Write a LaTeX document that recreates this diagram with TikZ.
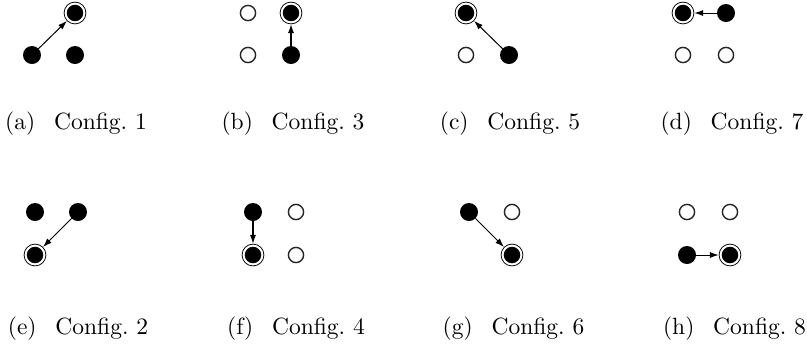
\documentclass[tikz,border=0pt]{standalone}
\usetikzlibrary{arrows.meta}
\begin{document}
\begin{tikzpicture}[x=0.4255pt,y=-0.4255pt,
  target/.style={circle,inner sep=0pt,minimum size=8.0pt,fill=black,draw=black,
    line width=0.38pt,double=white,double distance=0.85pt,outer sep=0.81pt},
  agent/.style={circle,inner sep=0pt,minimum size=7.66pt,fill=black,outer sep=0pt},
  free/.style={circle,inner sep=0pt,minimum size=6.47pt,draw=black!85,line width=0.6pt,fill=white},
  move/.style={line width=0.43pt,-{Latex[length=3.8pt,width=2.6pt]}},
  captext/.style={anchor=base,inner sep=0pt,font=\normalsize}]
\useasboundingbox (0,0) rectangle (807,346);
% (a)
\node[target] (aT) at (75,13) {};
\node[agent] (aBL) at (32,55) {};
\node[agent] (aBR) at (75,55) {};
\draw[move] (aBL) -- (aT);
\node[captext] (la) at (76,129) {(a)\hspace{8pt}Config.~1};
% (b)
\node[free] (bTL) at (248,13) {};
\node[target] (bT) at (291,13) {};
\node[free] (bBL) at (248,55) {};
\node[agent] (bBR) at (291,55) {};
\draw[move] (bBR) -- (bT);
\node[captext] (lb) at (293,129) {(b)\hspace{8pt}Config.~3};
% (c)
\node[target] (cT) at (466,13) {};
\node[free] (cBL) at (466,55) {};
\node[agent] (cBR) at (509,55) {};
\draw[move] (cBR) -- (cT);
\node[captext] (lc) at (510,129) {(c)\hspace{8pt}Config.~5};
% (d)
\node[target] (dT) at (683,13) {};
\node[agent] (dTR) at (726,13) {};
\node[free] (dBL) at (683,55) {};
\node[free] (dBR) at (726,55) {};
\draw[move] (dTR) -- (dT);
\node[captext] (ld) at (732,129) {(d)\hspace{8pt}Config.~7};
% (e)
\node[agent] (eTL) at (35,212) {};
\node[agent] (eTR) at (78,212) {};
\node[target] (eT) at (35,255) {};
\draw[move] (eTR) -- (eT);
\node[captext] (le) at (78,334) {(e)\hspace{8pt}Config.~2};
% (f)
\node[agent] (fTL) at (253,212) {};
\node[free] (fTR) at (296,212) {};
\node[target] (fT) at (253,255) {};
\node[free] (fBR) at (296,255) {};
\draw[move] (fTL) -- (fT);
\node[captext] (lf) at (296,334) {(f)\hspace{8pt}Config.~4};
% (g)
\node[agent] (gTL) at (469,212) {};
\node[free] (gTR) at (512,212) {};
\node[target] (gT) at (512,255) {};
\draw[move] (gTL) -- (gT);
\node[captext] (lg) at (513.5,334) {(g)\hspace{8pt}Config.~6};
% (h)
\node[free] (hTL) at (687,212) {};
\node[free] (hTR) at (730,212) {};
\node[agent] (hBL) at (687,255) {};
\node[target] (hT) at (730,255) {};
\draw[move] (hBL) -- (hT);
\node[captext] (lh) at (734.5,334) {(h)\hspace{8pt}Config.~8};
\end{tikzpicture}
\end{document}
